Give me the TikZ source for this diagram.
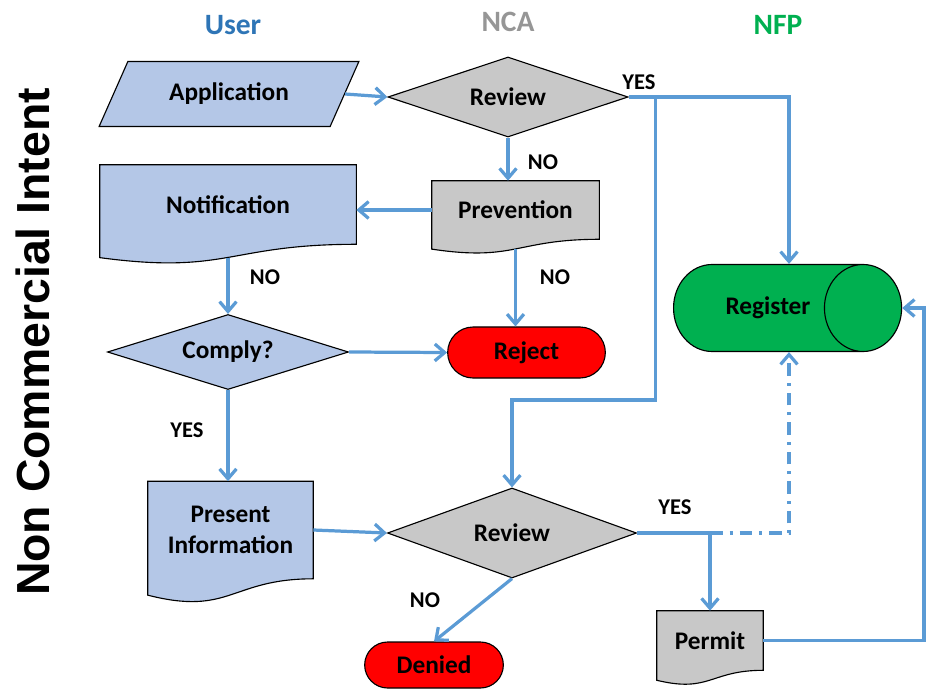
\documentclass[tikz,border=0pt]{standalone}
\usepackage{fontspec}
\setmainfont{Carlito}
\newfontfamily\sidefont{Liberation Sans}
\usetikzlibrary{shapes.geometric, shapes.misc, arrows.meta, calc, backgrounds}

\definecolor{userblue}{RGB}{180,199,231}
\definecolor{ncagray}{RGB}{200,200,200}
\definecolor{nfpgreen}{RGB}{0,176,80}
\definecolor{linkblue}{RGB}{91,155,213}
\definecolor{headblue}{RGB}{46,117,182}
\definecolor{headgray}{RGB}{150,150,150}

% outline of a document node, wavy bottom, drawn behind the text
\newcommand{\docshape}[2]{%
  \begin{pgfonlayer}{background}
    \draw[outline, fill=#2] (#1.north west) -- (#1.north east) -- (#1.south east)
      .. controls (#1.south) and ($(#1.south)!-0.384!(#1.north)$)
      .. ($(#1.south west)!-0.1675!(#1.north west)$) -- cycle;
  \end{pgfonlayer}
  \coordinate (#1-b) at ($(#1.south)!-0.166!(#1.north)$);
}

\begin{document}
\begin{tikzpicture}[
    x=0.025cm, y=-0.025cm,
    txt/.style={font=\bfseries\fontsize{18}{22}\selectfont},
    lbl/.style={font=\bfseries\fontsize{16}{19}\selectfont},
    head/.style={font=\bfseries\fontsize{21}{25}\selectfont},
    outline/.style={draw, line width=0.8pt},
    doc/.style={txt, rectangle, align=center, inner sep=0pt},
    decision/.style={txt, diamond, outline, inner sep=0pt, aspect=3},
    stop/.style={txt, rounded rectangle, outline, fill=red},
    arrow/.style={-{Straight Barb[length=7pt,width=12pt]}, line width=2.3pt, linkblue}
]
    \useasboundingbox (0,0) rectangle (932,690);

    % Lanes
    \node[head, text=headblue] (user) at (233,25) {User};
    \node[head, text=headgray] (nca) at (508,22) {NCA};
    \node[head, text=nfpgreen] (nfp) at (778,25) {NFP};
    \node[rotate=90, font=\sidefont\bfseries\fontsize{33}{40}\selectfont] (side) at (33,342) {Non Commercial Intent};

    % First review
    \node[txt, trapezium, trapezium left angle=52, trapezium right angle=128, trapezium stretches=true,
          outline, fill=userblue, minimum width=6.5cm, minimum height=1.625cm, inner sep=0pt] (app) at (229,94) {Application};
    \node[decision, fill=ncagray, minimum width=6cm, minimum height=2cm] (rev1) at (508,97) {Review};
    \node[doc, minimum width=4.175cm, minimum height=1.45cm] (prev) at (515.5,210) {Prevention};
    \docshape{prev}{ncagray}
    \node[doc, minimum width=6.4cm, minimum height=1.975cm] (notif) at (228,204.5) {Notification};
    \docshape{notif}{userblue}
    \node[decision, fill=userblue, minimum width=6.025cm, minimum height=1.875cm] (comply) at (228,352) {Comply?};
    \node[stop, minimum width=4.175cm, minimum height=1.275cm] (reject) at (526.5,352.5) {Reject};

    % Second review
    \node[doc, minimum width=4.125cm, minimum height=2.425cm] (present) at (230.5,530) {Present\\Information};
    \docshape{present}{userblue}
    \node[decision, fill=ncagray, minimum width=6.225cm, minimum height=2.25cm] (rev2) at (512,533) {Review};
    \node[stop, minimum width=3.7cm, minimum height=1.15cm] (denied) at (434,665) {Denied};
    \node[doc, minimum width=2.65cm, minimum height=1.475cm] (permit) at (710,640.5) {Permit};
    \docshape{permit}{ncagray}

    % Register
    \node[txt, cylinder, outline, fill=nfpgreen, aspect=3.5, minimum width=2.175cm, minimum height=5.7cm,
          inner sep=0pt] (reg) at (768,308) {Register};
    \coordinate (regtop) at ($(reg.north)+(21,0)$);
    \coordinate (regbot) at ($(reg.south)+(21,0)$);

    % Labels
    \node[lbl] (lyes1) at (639,82) {YES};
    \node[lbl] (lno1) at (543,162) {NO};
    \node[lbl] (lno2) at (265,277) {NO};
    \node[lbl] (lno3) at (555,277) {NO};
    \node[lbl] (lyes2) at (187,430) {YES};
    \node[lbl] (lno4) at (425,600) {NO};
    \node[lbl] (lyes3) at (675,507) {YES};

    % Arrows
    \coordinate (split1) at ($(rev1.east)+(27,0)$);
    \coordinate (bend1) at ($(split1)+(0,303)$);
    \coordinate (split2) at (rev2.east -| permit.north);
    \coordinate (back) at (924,400);
    \draw[arrow] (app.east) -- (rev1.west);
    \draw[arrow] (rev1.east) -| (regtop);
    \draw[arrow] (split1) -- (bend1) -| (rev2.north);
    \draw[arrow] (rev1.south) -- (rev1.south |- prev.north);
    \draw[arrow] (prev.west) -- (prev.west -| notif.east);
    \draw[arrow] (notif-b) -- (notif-b |- comply.north);
    \draw[arrow] (prev-b) -- (prev-b |- reject.north);
    \draw[arrow] (comply.east) -- (reject.west);
    \draw[arrow] (comply.south) -- (comply.south |- present.north);
    \draw[arrow] (present.east) -- (rev2.west);
    \draw[arrow] (rev2.south) -- (denied.north);
    \draw[arrow] (rev2.east) -| (permit.north);
    \draw[arrow, dash pattern=on 9pt off 5pt on 2pt off 5pt] (split2) -| (regbot);
    \draw[arrow] (permit.east) -| (back) |- (reg.east);
\end{tikzpicture}
\end{document}
